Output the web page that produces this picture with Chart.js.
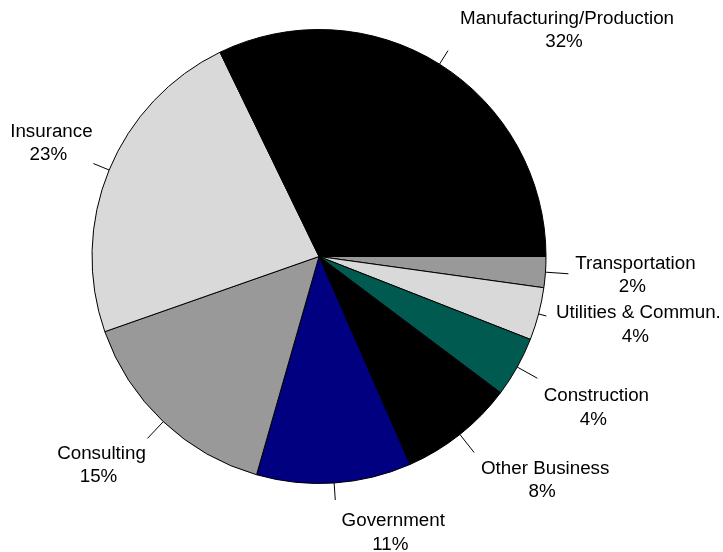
<!DOCTYPE html>
<html>
<head>
<meta charset="utf-8">
<script src="https://cdn.jsdelivr.net/npm/chart.js@4"></script>
<style>
  html, body { margin: 0; padding: 0; background: #fff; }
  #wrap { width: 723px; height: 552px; }
</style>
</head>
<body>
<div id="wrap"><canvas id="industry-chart" width="723" height="552"></canvas></div>
<script>
  // counter-clockwise order from 3 o'clock, as in the picture
  const industries = ['Manufacturing/Production', 'Insurance', 'Consulting', 'Government',
    'Other Business', 'Construction', 'Utilities & Commun.', 'Transportation'];
  const shares = [32.2, 23.2, 15.2, 11.0, 8.2, 4.3, 3.75, 2.2];
  const shareLabels = ['32%', '23%', '15%', '11%', '8%', '4%', '4%', '2%'];

  const sliceColors = ['#000000', '#d9d9d9', '#999999', '#000080', '#000000', '#005a50', '#d9d9d9', '#999999'];
  // leader line length, label block offset from leader end (x centre, first line)
  const leaderLen = [16, 17, 23, 17, 23, 23, 8, 23];
  const labelDx = [119, -42, -46, 58, 71, 59, 92, 67];
  const labelDy = [-32, -32, 15, 21, 16, 18, -3, -10];

  // chart.js goes clockwise, so feed it reversed
  const rev = arr => arr.slice().reverse();

  const leaderLabels = {
    id: 'leaderLabels',
    afterDraw(chart) {
      const ctx = chart.ctx;
      const arcs = chart.getDatasetMeta(0).data;
      const n = industries.length;
      ctx.save();
      ctx.font = '18.8px "Liberation Sans", Arial, sans-serif';
      ctx.textAlign = 'center';
      ctx.textBaseline = 'middle';
      arcs.forEach((arc, j) => {
        const i = n - 1 - j;
        const p = arc.getProps(['x', 'y', 'startAngle', 'endAngle', 'outerRadius'], true);
        const mid = (p.startAngle + p.endAngle) / 2;
        const x0 = p.x + Math.cos(mid) * p.outerRadius;
        const y0 = p.y + Math.sin(mid) * p.outerRadius;
        const x1 = p.x + Math.cos(mid) * (p.outerRadius + leaderLen[i]);
        const y1 = p.y + Math.sin(mid) * (p.outerRadius + leaderLen[i]);
        ctx.strokeStyle = '#000';
        ctx.lineWidth = 1;
        ctx.beginPath();
        ctx.moveTo(x0, y0);
        ctx.lineTo(x1, y1);
        ctx.stroke();
        ctx.fillStyle = '#000';
        ctx.fillText(industries[i], x1 + labelDx[i], y1 + labelDy[i]);
        ctx.fillText(shareLabels[i], x1 + labelDx[i] - 3, y1 + labelDy[i] + 23.5);
      });
      ctx.restore();
    }
  };

  new Chart(document.getElementById('industry-chart').getContext('2d'), {
    type: 'pie',
    data: {
      labels: rev(industries),
      datasets: [{
        data: rev(shares),
        backgroundColor: rev(sliceColors),
        borderColor: '#000',
        borderWidth: 1,
        radius: 227
      }]
    },
    options: {
      responsive: false,
      animation: false,
      rotation: 90,
      layout: {
        padding: { left: 0, right: 85, top: 0, bottom: 39 }
      },
      plugins: {
        legend: { display: false },
        tooltip: { enabled: false }
      }
    },
    plugins: [leaderLabels]
  });
</script>
</body>
</html>
